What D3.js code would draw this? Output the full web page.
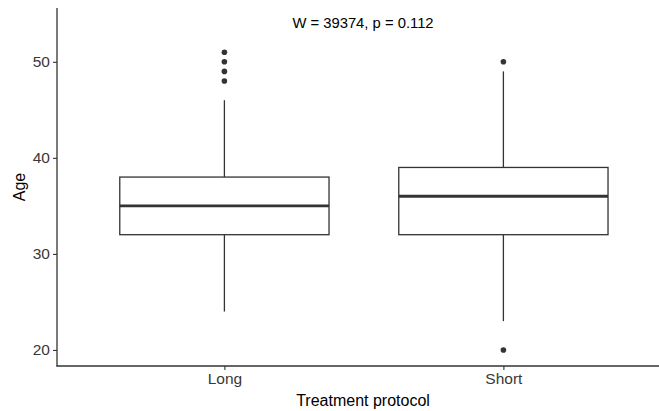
<!DOCTYPE html>
<html>
<head>
<meta charset="utf-8">
<script src="https://cdn.jsdelivr.net/npm/d3@7"></script>
<style>
  body { margin: 0; background: #fff; }
  text { font-family: "Liberation Sans", Arial, sans-serif; }
</style>
</head>
<body>
<div id="chart"></div>
<script>
// groups and their box statistics
var groups = ["Long", "Short"];
var q1 = [32, 32];
var medians = [35, 36];
var q3 = [38, 39];
var whiskerLow = [24, 23];
var whiskerHigh = [46, 49];
var outliers = [[48, 49, 50, 51], [50, 20]];
var yTicks = [20, 30, 40, 50];
var annotation = "W = 39374, p = 0.112";

var fullwidth = 659, fullheight = 411;
var margin = {top: 8, left: 57, bottom: 45};
var height = 366 - margin.top;

var svg = d3.select("#chart").append("svg")
    .attr("width", fullwidth)
    .attr("height", fullheight);

// discrete x with ggplot-like 0.6 expansion on each side
var step = 279;
var xScale = d3.scalePoint()
    .domain(groups)
    .range([margin.left + 0.6 * step, margin.left + 1.6 * step]);

var yScale = d3.scaleLinear()
    .domain([18.33, 55.6])
    .range([366, margin.top]);

var boxW = step * 0.75;
var ink = "#333333";

// boxes
groups.forEach(function(g, i) {
    var cx = xScale(g);
    var gr = svg.append("g");
    gr.append("line")
        .attr("x1", cx).attr("x2", cx)
        .attr("y1", yScale(whiskerHigh[i])).attr("y2", yScale(q3[i]))
        .attr("stroke", ink).attr("stroke-width", 1.3);
    gr.append("line")
        .attr("x1", cx).attr("x2", cx)
        .attr("y1", yScale(q1[i])).attr("y2", yScale(whiskerLow[i]))
        .attr("stroke", ink).attr("stroke-width", 1.3);
    gr.append("rect")
        .attr("x", cx - boxW / 2)
        .attr("y", yScale(q3[i]))
        .attr("width", boxW)
        .attr("height", yScale(q1[i]) - yScale(q3[i]))
        .attr("fill", "#fff")
        .attr("stroke", ink).attr("stroke-width", 1.3);
    gr.append("line")
        .attr("x1", cx - boxW / 2).attr("x2", cx + boxW / 2)
        .attr("y1", yScale(medians[i])).attr("y2", yScale(medians[i]))
        .attr("stroke", ink).attr("stroke-width", 2.8);
    gr.selectAll("circle")
        .data(outliers[i])
        .enter()
        .append("circle")
            .attr("cx", cx)
            .attr("cy", function(d) { return yScale(d); })
            .attr("r", 2.8)
            .attr("fill", ink);
});

// axes
var yAxis = d3.axisLeft(yScale).tickValues(yTicks).tickSize(4).tickPadding(3);
var gy = svg.append("g")
    .attr("transform", "translate(" + margin.left + ",0)")
    .call(yAxis);
gy.select(".domain").remove();
gy.append("line")
    .attr("x1", 0).attr("x2", 0)
    .attr("y1", margin.top).attr("y2", 366.5)
    .attr("stroke", ink).attr("stroke-width", 1.3);

var xAxis = d3.axisBottom(xScale).tickSize(4).tickPadding(3);
var gx = svg.append("g")
    .attr("transform", "translate(0,366)")
    .call(xAxis);
gx.select(".domain").remove();
gx.append("line")
    .attr("x1", margin.left - 0.5).attr("x2", fullwidth)
    .attr("y1", 0).attr("y2", 0)
    .attr("stroke", ink).attr("stroke-width", 1.3);

svg.selectAll(".tick line").attr("stroke", ink).attr("stroke-width", 1.1);
svg.selectAll(".tick text")
    .attr("fill", "#383838")
    .style("font-size", "15.5px")
    .style("font-family", "'Liberation Sans', Arial, sans-serif");

// titles
svg.append("text")
    .attr("x", 363)
    .attr("y", 406)
    .attr("text-anchor", "middle")
    .style("font-size", "16px")
    .attr("fill", "#000")
    .text("Treatment protocol");

svg.append("text")
    .attr("transform", "translate(25," + 187 + ") rotate(-90)")
    .attr("text-anchor", "middle")
    .style("font-size", "16px")
    .attr("fill", "#000")
    .text("Age");

svg.append("text")
    .attr("x", 363)
    .attr("y", 28)
    .attr("text-anchor", "middle")
    .style("font-size", "14.8px")
    .attr("fill", "#000")
    .text(annotation);
</script>
</body>
</html>
